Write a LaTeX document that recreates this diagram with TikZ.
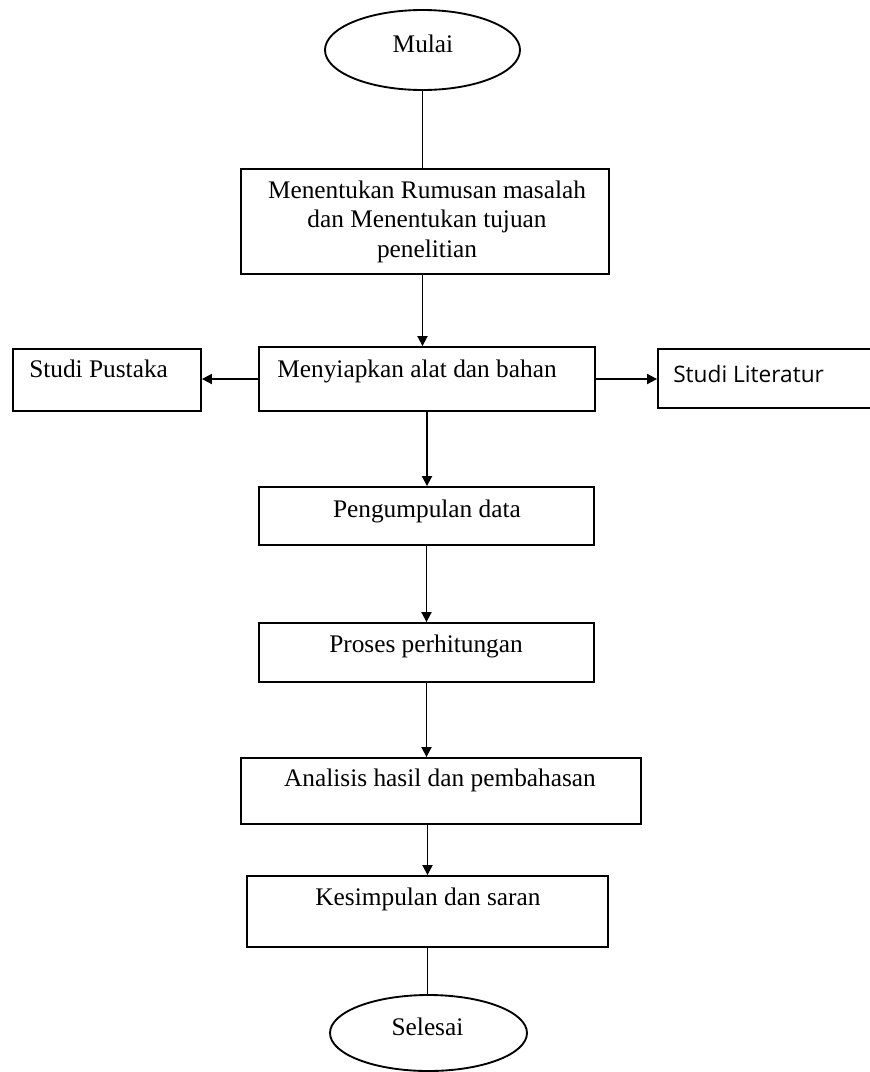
\documentclass[tikz,border=0pt]{standalone}
\usepackage{fontspec}
\setmainfont{Liberation Serif}
\newfontfamily\sansui{Open Sans}
\usetikzlibrary{arrows.meta,fit,shapes.geometric}
\tikzset{
  box/.style={draw, rectangle, inner sep=0pt, line width=1.4pt, fit={#1}},
  term/.style={draw, ellipse, inner sep=0pt, line width=1.4pt},
  conn/.style={line width=1.4pt},
  arr/.style={line width=1.4pt, -{Triangle[length=7.5pt,width=7.5pt]}},
  txt/.style={font=\fontsize{19}{22}\selectfont, inner sep=0pt, anchor=base},
}
\begin{document}
\begin{tikzpicture}[x=0.75pt, y=-0.75pt]
\useasboundingbox (0,0) rectangle (870,1072);
% terminals
\node[term, minimum width=146.25pt, minimum height=60pt] (mulai) at (422.5,50) {};
\node[term, minimum width=147.75pt, minimum height=57pt] (selesai) at (428.5,1033) {};
% boxes
\node[box={(241,169) (609,274)}] (b1) {};
\node[box={(259,347) (595,411)}] (b2) {};
\node[box={(13,349) (201,411)}] (sp) {};
\node[box={(658,349) (873,408)}] (sl) {};
\node[box={(259,487) (594,545)}] (b3) {};
\node[box={(259,623) (594,682)}] (b4) {};
\node[box={(241,758) (641,824)}] (b5) {};
\node[box={(247,876) (608,947)}] (b6) {};
% texts
\node[txt] (tmulai) at (423,52) {Mulai};
\node[txt, anchor=center, align=center] (t1) at (427,221.6) {Menentukan Rumusan masalah\\dan Menentukan tujuan\\penelitian};
\node[txt] (t2) at (417,377) {Menyiapkan alat dan bahan};
\node[txt, anchor=base west] (tsp) at (29,377) {Studi Pustaka};
\node[txt, anchor=base west, font=\sansui\fontsize{17}{20}\selectfont] (tsl) at (673,382) {Studi Literatur};
\node[txt] (t3) at (427,517) {Pengumpulan data};
\node[txt] (t4) at (426,652) {Proses perhitungan};
\node[txt] (t5) at (440,786) {Analisis hasil dan pembahasan};
\node[txt] (t6) at (428,905) {Kesimpulan dan saran};
\node[txt] (tsel) at (427.5,1035) {Selesai};
% connectors
\draw[conn] (mulai.south) -- (mulai.south |- b1.north);
\draw[arr] (b1.south -| mulai.south) -- (mulai.south |- b2.north);
\draw[arr] (b2.west) -- (b2.west -| sp.east);
\draw[arr] (b2.east) -- (b2.east -| sl.west);
\draw[arr] (b2.south) -- (b2.south |- b3.north);
\draw[arr] (b3.south) -- (b3.south |- b4.north);
\draw[arr] (b4.south) -- (b4.south |- b5.north);
\draw[arr] (b6.north |- b5.south) -- (b6.north);
\draw[conn] (b6.south) -- (b6.south |- selesai.north);
\end{tikzpicture}
\end{document}
